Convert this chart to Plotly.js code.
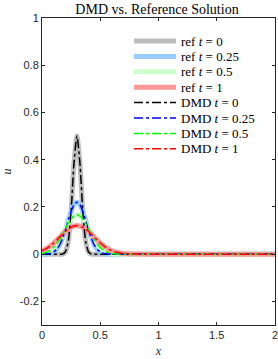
<!DOCTYPE html>
<html><head><meta charset="utf-8">
<script src="https://cdn.plot.ly/plotly-3.0.1.min.js"></script>
<style>html,body{margin:0;padding:0;background:#fff}</style>
</head><body>
<div id="chart" style="width:278px;height:359px"></div>
<script>
var xGrid = [0,0.025,0.05,0.075,0.1,0.125,0.15,0.175,0.2,0.225,0.25,0.275,0.3,0.325,0.35,0.375,0.4,0.425,0.45,0.475,0.5,0.525,0.55,0.575,0.6,0.625,0.65,0.675,0.7,0.725,0.75,0.775,0.8,1.0,1.5,2.0];
var refT0 = [0,0,0,0,0,0,0,0,0.009,0.053,0.184,0.389,0.5,0.389,0.184,0.053,0.009,0,0,0,0,0,0,0,0,0,0,0,0,0,0,0,0,0,0,0];
var refT025 = [0.0002,0.0006,0.0017,0.0044,0.010,0.020,0.038,0.066,0.101,0.142,0.181,0.210,0.22,0.210,0.181,0.142,0.101,0.066,0.038,0.020,0.010,0.0044,0.0017,0.0006,0.0002,0,0,0,0,0,0,0,0,0,0,0];
var refT05 = [0.0031,0.0058,0.010,0.018,0.028,0.043,0.061,0.083,0.107,0.130,0.149,0.162,0.167,0.162,0.149,0.130,0.107,0.083,0.061,0.043,0.028,0.018,0.010,0.0058,0.0031,0.0015,0.0007,0.0003,0.0001,0,0,0,0,0,0,0];
var refT1 = [0.0146,0.020,0.028,0.037,0.047,0.059,0.071,0.084,0.096,0.106,0.114,0.119,0.121,0.119,0.114,0.106,0.096,0.084,0.071,0.059,0.047,0.037,0.028,0.020,0.0146,0.0101,0.0068,0.0044,0.0028,0.0017,0.0010,0.0006,0.0003,0,0,0];
var dmdT0 = [0,0,0,0,0,0,0,0,0.009,0.053,0.184,0.389,0.5,0.389,0.184,0.053,0.009,0,0,0,0,0,0,0,0,0,0,0,0,0,0,0,0,0,0,0];
var dmdT025 = [0.0002,0.0006,0.0017,0.0044,0.010,0.020,0.038,0.066,0.101,0.142,0.181,0.210,0.22,0.210,0.181,0.142,0.101,0.066,0.038,0.020,0.010,0.0044,0.0017,0.0006,0.0002,0,0,0,0,0,0,0,0,0,0,0];
var dmdT05 = [0.0031,0.0058,0.010,0.018,0.028,0.043,0.061,0.083,0.107,0.130,0.149,0.162,0.167,0.162,0.149,0.130,0.107,0.083,0.061,0.043,0.028,0.018,0.010,0.0058,0.0031,0.0015,0.0007,0.0003,0.0001,0,0,0,0,0,0,0];
var dmdT1 = [0.0146,0.020,0.028,0.037,0.047,0.059,0.071,0.084,0.096,0.106,0.114,0.119,0.121,0.119,0.114,0.106,0.096,0.084,0.071,0.059,0.047,0.037,0.028,0.020,0.0146,0.0101,0.0068,0.0044,0.0028,0.0017,0.0010,0.0006,0.0003,0,0,0];
var names = ['ref <i>t</i> = 0','ref <i>t</i> = 0.25','ref <i>t</i> = 0.5','ref <i>t</i> = 1','DMD <i>t</i> = 0','DMD <i>t</i> = 0.25','DMD <i>t</i> = 0.5','DMD <i>t</i> = 1'];
var xTicks = [0,0.5,1,1.5,2];
var xTickText = ['0','0.5','1','1.5','2'];
var yTicks = [-0.2,0,0.2,0.4,0.6,0.8,1];
var yTickText = ['-0.2','0','0.2','0.4','0.6','0.8','1'];

var refColors = ['#bdbdbd','#99ccff','#ccffcc','#ff9999'];
var dmdColors = ['#000000','#0000ff','#00ff00','#ff0000'];
var refs = [refT0, refT025, refT05, refT1];
var dmds = [dmdT0, dmdT025, dmdT05, dmdT1];
var traces = [];
var styles = [];
refs.forEach(function(y,i){
  var ln = {color:refColors[i], width:5};
  styles.push(ln);
  traces.push({x:xGrid, y:y, type:'scatter', mode:'lines', name:names[i], showlegend:false,
    line:Object.assign({shape:'spline', smoothing:0.6}, ln)});
});
dmds.forEach(function(y,i){
  var ln = {color:dmdColors[i], width:1.5, dash:'dashdot'};
  styles.push(ln);
  traces.push({x:xGrid, y:y, type:'scatter', mode:'lines', name:names[i+4], showlegend:false,
    line:Object.assign({shape:'spline', smoothing:0.6}, ln)});
});

// legend (drawn in paper coordinates, MATLAB-style, no box)
var W = 278, H = 359, mL = 42, mR = 3, mT = 18, mB = 34;
var pw = W - mL - mR, ph = H - mT - mB;
function px2x(p){ return (p - mL) / pw; }
function py2y(p){ return (H - mB - p) / ph; }
var legTop = 41, legStep = 15.4, keyX0 = 134, keyX1 = 176, textX = 178.5;
var shapes = [], annotations = [];
names.forEach(function(n,i){
  var yy = py2y(legTop + legStep*i);
  shapes.push({type:'line', xref:'paper', yref:'paper', x0:px2x(keyX0), x1:px2x(keyX1), y0:yy, y1:yy,
    line:{color:styles[i].color, width:styles[i].width, dash:styles[i].dash || 'solid'}});
  annotations.push({xref:'paper', yref:'paper', x:px2x(textX), y:yy, xanchor:'left', yanchor:'middle',
    text:n, showarrow:false, font:{family:'Liberation Serif, Times New Roman, serif', size:13, color:'#000'}});
});

var axisCommon = {showline:true, linecolor:'#262626', linewidth:1, mirror:'ticks', ticks:'inside', ticklen:3, tickcolor:'#262626', showgrid:false, zeroline:false,
  ticklabeloverflow:'allow',
  tickfont:{family:'Liberation Sans, Arial, sans-serif', size:11, color:'#262626'}};
var layout = {
  width:W, height:H,
  margin:{l:mL, r:mR, t:mT, b:mB},
  paper_bgcolor:'#fff', plot_bgcolor:'#fff',
  title:{text:'DMD vs. Reference Solution', font:{family:'Liberation Serif, Times New Roman, serif', size:14, color:'#000'}, x:157/W, xanchor:'center', y:1-9.5/H, yanchor:'middle'},
  xaxis:Object.assign({}, axisCommon, {range:[0,2], tickvals:xTicks, ticktext:xTickText,
    title:{text:'<i>x</i>', font:{family:'Liberation Serif, Times New Roman, serif', size:12, color:'#262626'}, standoff:6}}),
  yaxis:Object.assign({}, axisCommon, {range:[-0.3,1], tickvals:yTicks, ticktext:yTickText,
    title:{text:'<i>u</i>', font:{family:'Liberation Serif, Times New Roman, serif', size:12, color:'#262626'}, standoff:10}}),
  showlegend:false,
  shapes:shapes,
  annotations:annotations
};
Plotly.newPlot('chart', traces, layout, {displayModeBar:false, staticPlot:true});
</script>
</body></html>
